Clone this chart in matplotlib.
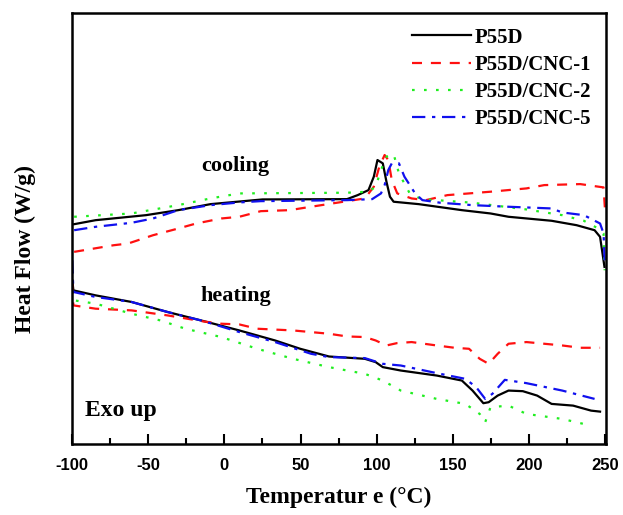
import matplotlib
matplotlib.use("Agg")
import matplotlib.pyplot as plt
from matplotlib.ticker import MultipleLocator

plt.rcParams["axes.unicode_minus"] = False

# DSC traces, temperature (C) vs heat flow (arbitrary, exo up)
# cooling scans
cool_t_p55d = [-98.6, -84.5, -51.5, -30.3, -9.1, 25.1, 80.5, 87.5, 94.6, 98.1, 100.5,
               104.0, 106.4, 108.7, 111.1, 127.6, 155.9, 174.7, 186.5, 214.8, 231.2,
               243.0, 246.6, 249.5]
cool_h_p55d = [2.193, 2.233, 2.283, 2.333, 2.393, 2.440, 2.443, 2.483, 2.533, 2.667, 2.833,
               2.800, 2.617, 2.467, 2.417, 2.393, 2.333, 2.300, 2.267, 2.227, 2.183,
               2.133, 2.067, 1.767]

cool_t_cnc1 = [-98.6, -72.7, -63.2, -46.8, -30.3, -18.5, -2.0, 9.8, 23.9, 42.8, 56.9, 78.1,
               92.2, 98.1, 101.7, 105.2, 107.6, 109.9, 113.5, 122.9, 132.3, 146.4, 174.7,
               198.3, 210.0, 233.6, 248.9, 250.0]
cool_h_cnc1 = [1.917, 1.983, 2.000, 2.083, 2.150, 2.200, 2.250, 2.267, 2.323, 2.333, 2.367,
               2.417, 2.450, 2.567, 2.767, 2.883, 2.833, 2.633, 2.500, 2.450, 2.433, 2.483,
               2.517, 2.550, 2.583, 2.593, 2.560, 2.300]

cool_t_cnc2 = [-98.6, -60.9, -30.3, -9.1, 9.8, 80.5, 94.6, 99.3, 102.8, 106.4, 111.1, 114.6,
               121.7, 130.0, 139.4, 162.9, 198.3, 221.8, 236.0, 245.4, 248.9, 249.6]
cool_h_cnc2 = [2.267, 2.300, 2.383, 2.450, 2.500, 2.507, 2.517, 2.567, 2.733, 2.867, 2.893,
               2.700, 2.500, 2.440, 2.433, 2.407, 2.340, 2.283, 2.227, 2.150, 2.100, 1.733]

cool_t_cnc5 = [-98.6, -84.5, -60.9, -46.8, -30.3, -9.1, 9.8, 23.9, 80.5, 97.0, 102.8, 105.2,
               107.6, 109.9, 114.6, 118.2, 125.2, 130.0, 141.7, 162.9, 186.5, 214.8, 221.8,
               236.0, 246.6, 248.9, 249.6]
cool_h_cnc5 = [2.133, 2.167, 2.207, 2.250, 2.333, 2.383, 2.410, 2.423, 2.433, 2.443, 2.500,
               2.583, 2.733, 2.800, 2.800, 2.667, 2.500, 2.433, 2.407, 2.383, 2.367, 2.350,
               2.310, 2.283, 2.200, 2.100, 1.833]

# heating scans
heat_t_p55d = [-99.8, -99.1, -97.4, -84.5, -60.9, -37.3, -13.8, 9.8, 33.3, 49.8, 68.7, 92.2,
               99.3, 104.0, 115.8, 139.4, 155.9, 162.9, 170.0, 173.5, 179.4, 186.5, 195.9,
               205.3, 214.8, 228.9, 240.7, 246.6]
heat_h_p55d = [1.633, 1.533, 1.527, 1.483, 1.417, 1.317, 1.227, 1.133, 1.033, 0.950, 0.873,
               0.850, 0.817, 0.767, 0.733, 0.683, 0.633, 0.533, 0.407, 0.417, 0.483, 0.533,
               0.527, 0.483, 0.400, 0.383, 0.333, 0.323]

heat_t_cnc1 = [-99.8, -99.1, -84.5, -60.9, -37.3, -13.8, -2.0, 9.8, 21.6, 45.1, 68.7, 80.5,
               92.2, 99.3, 106.4, 113.5, 122.9, 139.4, 151.1, 160.6, 167.6, 173.5, 179.4,
               186.5, 198.3, 221.8, 233.6, 246.6]
heat_h_cnc1 = [1.600, 1.383, 1.350, 1.333, 1.283, 1.223, 1.200, 1.193, 1.150, 1.133, 1.100,
               1.073, 1.067, 1.033, 0.983, 1.007, 1.017, 0.983, 0.960, 0.950, 0.850, 0.800,
               0.900, 1.000, 1.017, 0.983, 0.960, 0.960]

heat_t_cnc2 = [-99.8, -98.6, -84.5, -60.9, -42.0, -25.6, -2.0, 21.6, 45.1, 68.7, 92.2, 104.0,
               115.8, 139.4, 158.2, 167.6, 171.2, 174.7, 186.5, 198.3, 221.8, 240.7]
heat_h_cnc2 = [1.533, 1.433, 1.400, 1.300, 1.233, 1.150, 1.067, 0.950, 0.850, 0.767, 0.700,
               0.633, 0.533, 0.450, 0.400, 0.300, 0.217, 0.367, 0.383, 0.300, 0.250, 0.183]

heat_t_cnc5 = [-99.8, -99.1, -84.5, -60.9, -37.3, -13.8, 9.8, 33.3, 56.9, 68.7, 92.2, 104.0,
               115.8, 139.4, 158.2, 165.3, 171.2, 175.9, 184.1, 198.3, 221.8, 243.0]
heat_h_cnc5 = [1.833, 1.517, 1.467, 1.417, 1.317, 1.227, 1.117, 1.017, 0.900, 0.867, 0.857,
               0.800, 0.783, 0.707, 0.650, 0.567, 0.450, 0.500, 0.640, 0.607, 0.533, 0.450]

labels = ["P55D", "P55D/CNC-1", "P55D/CNC-2", "P55D/CNC-5"]

serif = "Liberation Serif"
sans = "Liberation Sans"

fig = plt.figure(figsize=(6.23, 5.15), dpi=100)
ax = fig.add_axes([72 / 623, 71 / 515, 534 / 623, 431 / 515])

lw = 1.6
red_ls = (0, (4.5, 4))
green_ls = (0, (1.2, 4.2))
blue_ls = (0, (6, 3, 1.5, 3))

ax.plot(cool_t_p55d, cool_h_p55d, color="black", lw=lw, label=labels[0])
ax.plot(cool_t_cnc1, cool_h_cnc1, color="#ff1010", lw=lw, ls=red_ls, label=labels[1])
ax.plot(cool_t_cnc2, cool_h_cnc2, color="#20ee20", lw=lw, ls=green_ls, label=labels[2])
ax.plot(cool_t_cnc5, cool_h_cnc5, color="#1010ee", lw=lw, ls=blue_ls, label=labels[3])

ax.plot(heat_t_p55d, heat_h_p55d, color="black", lw=lw)
ax.plot(heat_t_cnc1, heat_h_cnc1, color="#ff1010", lw=lw, ls=red_ls)
ax.plot(heat_t_cnc2, heat_h_cnc2, color="#20ee20", lw=lw, ls=green_ls)
ax.plot(heat_t_cnc5, heat_h_cnc5, color="#1010ee", lw=lw, ls=blue_ls)

ax.set_xlim(-100, 250.5)
ax.set_ylim(0, 4.3)
ax.xaxis.set_major_locator(MultipleLocator(50))
ax.xaxis.set_minor_locator(MultipleLocator(25))
ax.set_yticks([])
ax.tick_params(axis="x", which="major", direction="in", length=7, width=1.5, pad=10,
               labelsize=12)
ax.tick_params(axis="x", which="minor", direction="in", length=4.5, width=1.5)
for lab in ax.get_xticklabels():
    lab.set_fontfamily(sans)
    lab.set_fontweight("bold")
for sp in ax.spines.values():
    sp.set_linewidth(1.8)

ax.text(7.5, 2.77, "cooling", family=serif, weight="bold", fontsize=16,
        ha="center", va="center")
ax.text(7.5, 1.48, "heating", family=serif, weight="bold", fontsize=16,
        ha="center", va="center")
ax.text(-68, 0.33, "Exo up", family=serif, weight="bold", fontsize=17,
        ha="center", va="center")

ax.set_xlabel("Temperatur e (°C)", family=serif, weight="bold", fontsize=17, labelpad=10)
fig.text(25 / 623, 1 - 249 / 515, "Heat Flow (W/g)", family=serif, weight="bold",
         fontsize=17, rotation=90, ha="center", va="center")

leg = ax.legend(loc="upper right", frameon=False, prop={"family": serif, "weight": "bold",
                "size": 15}, handlelength=2.8, handletextpad=0.2, labelspacing=0.35,
                borderaxespad=0.3)

fig.savefig("out.png", dpi=100)
